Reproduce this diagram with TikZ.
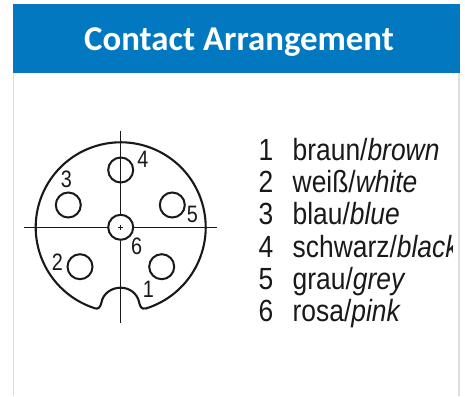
\documentclass[tikz,border=0pt]{standalone}
\usepackage{fontspec}
\setmainfont{Liberation Sans}
\newfontfamily\titlefont{Carlito}
\definecolor{hdr}{RGB}{2,120,192}
\definecolor{edge}{RGB}{222,222,222}
\definecolor{ink}{RGB}{25,25,25}
\tikzset{
  x=1pt,y=1pt,
  body/.style={line width=2.1pt,draw=ink},
  pin/.style={circle,draw=ink,line width=2pt,minimum size=25pt,inner sep=0pt,fill=none},
  axis/.style={line width=1.3pt,draw=ink},
  pinno/.style={font=\fontsize{22}{22}\selectfont,text=ink,inner sep=0pt,xscale=.9,yscale=1.08},
  rowtext/.style={font=\fontsize{26.4}{26.4}\selectfont,text=ink,anchor=base west,inner sep=0pt,yscale=1.16},
}
\begin{document}
\begin{tikzpicture}
\useasboundingbox (0,0) rectangle (465,396);
\fill[white] (0,0) rectangle (465,396);
% panel
\draw[edge,line width=1.2pt] (13.6,0) -- (13.6,323);
\draw[edge,line width=1.2pt] (459,0) -- (459,323);
\fill[hdr] (13,323) rectangle (459.5,392);
\node[font=\titlefont\bfseries\fontsize{34.8}{34.8}\selectfont,text=white,inner sep=0pt,anchor=base] (title) at (239,345) {Contact Arrangement};
% connector body
\coordinate (c) at (120.7,168.7);
\draw[body,line join=round] (c) ++(-73.3:85) arc (-73.3:252.5:85)
  .. controls (98,86.5) and (100.5,89) .. (101.3,93)
  .. controls (103,103) and (112,108.3) .. (120.7,108.3)
  .. controls (129,108.3) and (137.5,103) .. (139.3,93)
  .. controls (140.2,89) and (142,86.5) .. (145,87.7);
% axes
\coordinate (hl) at (24.3,168.7);
\coordinate (hr) at (216.7,168.7);
\coordinate (vt) at (120.7,265.3);
\coordinate (vb) at (120.7,72.7);
\node[pin] (p6) at (c) {};
\draw[axis] (hl) -- (p6.west);
\draw[axis] (p6.east) -- (hr);
\draw[axis] (vt) -- (p6.north);
\draw[axis] (p6.south) -- (vb);
\draw[line width=.8pt,draw=ink] (118.2,168.7) -- (123.2,168.7) (120.7,166.2) -- (120.7,171.2);
% pins
\node[pin] (p4) at (120.7,226) {};
\node[pin] (p3) at (68.3,191) {};
\node[pin] (p5) at (172.3,191) {};
\node[pin] (p2) at (80,129.3) {};
\node[pin] (p1) at (161.7,129.3) {};
% pin numbers
\node[pinno] (n4) at (143,237) {4};
\node[pinno] (n3) at (66.3,216.7) {3};
\node[pinno] (n5) at (192.3,182) {5};
\node[pinno] (n6) at (136.7,149.3) {6};
\node[pinno] (n2) at (57.3,133.3) {2};
\node[pinno] (n1) at (148.3,106.7) {1};
% table
\begin{scope}
\clip (240,60) rectangle (452,260);
\foreach \n/\de/\en [count=\i from 0] in {1/braun/brown,2/weiß/white,3/blau/blue,4/schwarz/black,5/grau/grey,6/rosa/pink}{
  \node[rowtext] (k\i) at (258.5,{235.8-\i*32.3}) {\n};
  \node[rowtext] (t\i) at (292.5,{235.8-\i*32.3}) {\de/\textit{\en}};
}
\end{scope}
\end{tikzpicture}
\end{document}
